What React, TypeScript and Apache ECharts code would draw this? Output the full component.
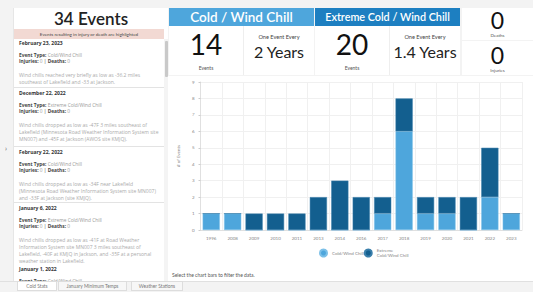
import React, { useEffect, useRef } from "react";
import * as echarts from "echarts";

const years = ["1996", "2008", "2009", "2010", "2011", "2013", "2014", "2016", "2017", "2018", "2019", "2020", "2021", "2022", "2023"];
const coldWindChill = [1, 1, 0, 0, 0, 0, 0, 0, 1, 6, 1, 1, 0, 2, 1];
const extremeColdWindChill = [0, 0, 1, 1, 1, 2, 3, 2, 1, 2, 1, 1, 2, 3, 0];
const yTicks = [0, 1, 2, 3, 4, 5, 6, 7, 8, 9];

const events = [
  {
    date: "February 23, 2023",
    type: "Cold/Wind Chill",
    text: "Wind chills reached very briefly as low as -36.2 miles southeast of Lakefield and -33 at Jackson.",
  },
  {
    date: "December 22, 2022",
    type: "Extreme Cold/Wind Chill",
    text: "Wind chills dropped as low as -47F 3 miles southeast of Lakefield (Minnesota Road Weather Information System site MN007) and -45F at Jackson (AWOS site KMJQ).",
  },
  {
    date: "February 22, 2022",
    type: "Cold/Wind Chill",
    text: "Wind chills dropped as low as -34F near Lakefield\n(Minnesota Road Weather Information System site MN007) and -33F at Jackson (site KMJQ).",
  },
  {
    date: "January 6, 2022",
    type: "Extreme Cold/Wind Chill",
    text: "Wind chills dropped as low as -41F at Road Weather Information System site MN007 3 miles southeast of Lakefield, -40F at KMJQ in Jackson, and -35F at a personal weather station in Lakefield.",
  },
  {
    date: "January 1, 2022",
    type: "Cold/Wind Chill",
    text: "",
  },
];
const entryTops = [40, 90, 149, 205, 266];

const FONT = "Lato, 'Open Sans', sans-serif";
const BODY = "'Open Sans', Lato, sans-serif";
const LIGHT = "#4ea6dc";
const DARK = "#135f8f";

function Chart() {
  const ref = useRef<HTMLDivElement>(null);
  useEffect(() => {
    if (!ref.current) return;
    const chart = echarts.init(ref.current, undefined, { renderer: "svg" });
    chart.setOption({
      animation: false,
      textStyle: { fontFamily: FONT },
      grid: { left: 28, right: 11, top: 6, bottom: 51 },
      legend: {
        left: 146,
        top: 167,
        itemWidth: 7,
        itemHeight: 7,
        itemGap: 0,
        icon: "circle",
        textStyle: { fontSize: 4.5, color: "#888", lineHeight: 5 },
        data: [
          { name: "Cold/Wind Chill" },
          { name: "Extreme\nCold/Wind Chill" },
        ],
      },
      xAxis: {
        type: "category",
        data: years,
        axisLine: { lineStyle: { color: "#e0e0e0" } },
        axisTick: { show: false },
        axisLabel: { fontSize: 4.5, color: "#888", margin: 6 },
        splitLine: { show: true, lineStyle: { color: "#f0f0f0" } },
      },
      yAxis: {
        type: "value",
        min: 0,
        max: 9,
        interval: 1,
        name: "# of Events",
        nameLocation: "middle",
        nameGap: 14,
        nameTextStyle: { fontSize: 4.5, color: "#777" },
        axisLine: { show: true, lineStyle: { color: "#e0e0e0" } },
        axisTick: { show: true, length: 2, lineStyle: { color: "#ccc" } },
        axisLabel: { fontSize: 4.5, color: "#888", margin: 6, formatter: (v: number) => (yTicks.includes(v) ? String(v) : "") },
        splitLine: { show: true, lineStyle: { color: "#f0f0f0" } },
      },
      series: [
        {
          name: "Cold/Wind Chill",
          type: "bar",
          stack: "a",
          data: coldWindChill,
          barCategoryGap: "20%",
          itemStyle: { color: LIGHT, borderColor: "#7cc0e8", borderWidth: 0.5 },
        },
        {
          name: "Extreme\nCold/Wind Chill",
          type: "bar",
          stack: "a",
          data: extremeColdWindChill,
          barCategoryGap: "20%",
          itemStyle: { color: DARK, borderColor: "#3a7fab", borderWidth: 0.5 },
        },
      ],
      graphic: [
        {
          type: "text",
          left: 4,
          top: 196,
          style: { text: "Select the chart bars to filter the data.", fontSize: 5, fill: "#555", fontFamily: FONT },
        },
      ],
    });
    return () => chart.dispose();
  }, []);
  return <div ref={ref} style={{ position: "absolute", left: 168, top: 76, width: 365, height: 205 }} />;
}

const abs = (l: number, t: number, w: number, h: number, extra: React.CSSProperties = {}): React.CSSProperties => ({
  position: "absolute",
  left: l,
  top: t,
  width: w,
  height: h,
  ...extra,
});

export default function App() {
  return (
    <div style={{ position: "fixed", left: 0, top: 0, width: 533, height: 292, background: "#f3f3f3", fontFamily: FONT, overflow: "hidden" }}>
      {/* left collapse arrow */}
      <div style={abs(5, 144, 6, 10, { fontSize: 7, color: "#555" })}>›</div>

      {/* left panel */}
      <div style={abs(13, 8, 154, 273, { background: "#fff", overflow: "hidden", borderLeft: "1px solid #e6e6e6" })}>
        <div style={abs(0, 0, 154, 21, { textAlign: "center", fontSize: 17, fontWeight: 600, color: "#222", lineHeight: "21px" })}>34 Events</div>
        <div style={abs(0, 21, 150, 10, { background: "#f2d9d3", textAlign: "center", fontSize: 4.6, color: "#444", lineHeight: "10px" })}>
          Events resulting in injury or death are highlighted
        </div>
        {/* scrollbar */}
        <div style={abs(150, 31, 4, 242, { background: "#f4f4f4" })} />
        <div style={abs(150.5, 33, 3, 36, { background: "#c9c9c9", borderRadius: 1 })} />
        {events.map((e, i) => {
          const last = i === events.length - 1;
          return (
            <div key={i} style={abs(0, entryTops[i] - 8, 150, last ? 273 - (entryTops[i] - 8) : 60, { overflow: last ? "hidden" : "visible" })}>
              {i > 0 && <div style={abs(0, -3, 150, 1, { background: "#e3e3e3" })} />}
              <div style={abs(5, 0, 140, 7, { fontSize: 5, fontWeight: 700, color: "#333", lineHeight: "7px", fontFamily: BODY })}>{e.date}</div>
              {last ? (
                <div style={abs(5, 12, 140, 3, { overflow: "hidden" })}>
                  <div style={{ fontSize: 4.8, color: "#999", lineHeight: "6px", fontFamily: BODY, whiteSpace: "nowrap" }}>
                    <span style={{ fontWeight: 700, color: "#444" }}>Event Type: </span>{e.type}
                  </div>
                </div>
              ) : (
                <div style={abs(5, 12, 140, 7, { fontSize: 4.8, color: "#999", lineHeight: "6.5px", fontFamily: BODY })}>
                  <span style={{ fontWeight: 700, color: "#444" }}>Event Type: </span>{e.type}
                </div>
              )}
              {!last && (
                <div style={abs(5, 18, 140, 7, { fontSize: 4.8, color: "#999", lineHeight: "6.5px", fontFamily: BODY })}>
                  <span style={{ fontWeight: 700, color: "#444" }}>Injuries: </span>0 <span style={{ color: "#444" }}>|</span> <span style={{ fontWeight: 700, color: "#444" }}>Deaths: </span>0
                </div>
              )}
              {e.text && (
                <div style={abs(5, 32, 143, 30, { fontSize: 5, color: "#aaa", lineHeight: "7px", fontFamily: BODY, whiteSpace: "pre-line" })}>{e.text}</div>
              )}
            </div>
          );
        })}
      </div>

      {/* Cold / Wind Chill header */}
      <div style={abs(169, 8, 145, 18, { background: LIGHT, color: "#fff", fontSize: 13.5, fontWeight: 600, textAlign: "center", lineHeight: "18px" })}>
        Cold / Wind Chill
      </div>
      <div style={abs(169, 26, 145, 49, { background: "#fff" })}>
        <div style={abs(0, 3, 74, 30, { textAlign: "center", fontSize: 28, color: "#111", lineHeight: "30px" })}>14</div>
        <div style={abs(0, 38, 74, 8, { textAlign: "center", fontSize: 5, color: "#555", lineHeight: "8px" })}>Events</div>
        <div style={abs(74, 0, 1, 49, { background: "#eee" })} />
        <div style={abs(75, 7, 70, 8, { textAlign: "center", fontSize: 5.6, color: "#444", lineHeight: "8px" })}>One Event Every</div>
        <div style={abs(75, 16, 70, 20, { textAlign: "center", fontSize: 16, color: "#222", lineHeight: "20px" })}>2 Years</div>
      </div>

      {/* Extreme header */}
      <div style={abs(315, 8, 145, 18, { background: "#1d7fc1", color: "#fff", fontSize: 10.8, fontWeight: 600, textAlign: "center", lineHeight: "18px" })}>
        Extreme Cold / Wind Chill
      </div>
      <div style={abs(315, 26, 145, 49, { background: "#fff" })}>
        <div style={abs(0, 3, 74, 30, { textAlign: "center", fontSize: 28, color: "#111", lineHeight: "30px" })}>20</div>
        <div style={abs(0, 38, 74, 8, { textAlign: "center", fontSize: 5, color: "#555", lineHeight: "8px" })}>Events</div>
        <div style={abs(74, 0, 1, 49, { background: "#eee" })} />
        <div style={abs(75, 7, 70, 8, { textAlign: "center", fontSize: 5.6, color: "#444", lineHeight: "8px" })}>One Event Every</div>
        <div style={abs(75, 16, 70, 20, { textAlign: "center", fontSize: 16, color: "#222", lineHeight: "20px" })}>1.4 Years</div>
      </div>

      {/* Deaths / Injuries */}
      <div style={abs(462, 8, 71, 32, { background: "#fff" })}>
        <div style={abs(0, 2, 71, 21, { textAlign: "center", fontSize: 23, color: "#111", lineHeight: "21px" })}>0</div>
        <div style={abs(0, 24, 71, 7, { textAlign: "center", fontSize: 4.5, color: "#555", lineHeight: "7px" })}>Deaths</div>
      </div>
      <div style={abs(462, 41, 71, 34, { background: "#fff" })}>
        <div style={abs(0, 4, 71, 21, { textAlign: "center", fontSize: 23, color: "#111", lineHeight: "21px" })}>0</div>
        <div style={abs(0, 26, 71, 7, { textAlign: "center", fontSize: 4.5, color: "#555", lineHeight: "7px" })}>Injuries</div>
      </div>

      {/* chart panel */}
      <div style={abs(168, 76, 365, 205, { background: "#fff" })} />
      <Chart />

      {/* tabs */}
      <div style={abs(0, 281, 533, 1, { background: "#e0e0e0" })} />
      {[
        { label: "Cold Stats", l: 17, w: 40 },
        { label: "January Minimum Temps", l: 58, w: 69 },
        { label: "Weather Stations", l: 131, w: 52 },
      ].map((t, i) => (
        <div key={i} style={abs(t.l, 281, t.w, 10, { border: "1px solid #ddd", boxSizing: "border-box", background: i === 0 ? "#fff" : "#f7f7f7", textAlign: "center", fontSize: 4.8, color: "#777", lineHeight: "8px", whiteSpace: "nowrap" })}>
          {t.label}
        </div>
      ))}
    </div>
  );
}
